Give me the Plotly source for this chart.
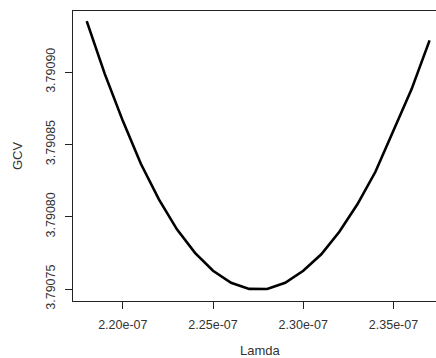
import plotly.graph_objects as go

# Data
lamda = [2.18e-07, 2.19e-07, 2.20e-07, 2.21e-07, 2.22e-07, 2.23e-07, 2.24e-07,
         2.25e-07, 2.26e-07, 2.27e-07, 2.28e-07, 2.29e-07, 2.30e-07, 2.31e-07,
         2.32e-07, 2.33e-07, 2.34e-07, 2.35e-07, 2.36e-07, 2.37e-07]
gcv = [3.7909353, 3.7908988, 3.7908663, 3.7908366, 3.7908120, 3.7907913,
       3.7907750, 3.7907626, 3.7907543, 3.7907501, 3.7907500, 3.7907543,
       3.7907626, 3.7907740, 3.7907896, 3.7908086, 3.7908311, 3.7908591,
       3.7908881, 3.7909220]

x_tick_vals = [2.20e-07, 2.25e-07, 2.30e-07, 2.35e-07]
x_tick_text = ["2.20e-07", "2.25e-07", "2.30e-07", "2.35e-07"]
y_tick_vals = [3.79075, 3.79080, 3.79085, 3.79090]
y_tick_text = ["3.79075", "3.79080", "3.79085", "3.79090"]

FONT = "Liberation Sans, Arial, Helvetica, sans-serif"
TXT = "#333333"

fig = go.Figure()
fig.add_trace(go.Scatter(x=lamda, y=gcv, mode="lines",
                         line=dict(color="black", width=2.6),
                         hoverinfo="skip", showlegend=False))

fig.update_layout(
    width=436, height=358,
    margin=dict(l=73, r=0, t=11, b=57),
    paper_bgcolor="white", plot_bgcolor="white",
    font=dict(family=FONT, size=13, color=TXT),
    xaxis=dict(range=[2.1724e-07, 2.37356e-07], showgrid=False, zeroline=False,
               showline=True, mirror=True, linecolor="#222222", linewidth=1,
               ticks="outside", ticklen=7, tickcolor="#222222",
               tickvals=x_tick_vals, ticktext=x_tick_text,
               tickfont=dict(size=12.5, color=TXT), ticklabelstandoff=5),
    yaxis=dict(range=[3.7907417, 3.7909423], showgrid=False, zeroline=False,
               showline=True, mirror=False, linecolor="#222222", linewidth=1,
               ticks="outside", ticklen=7, tickcolor="#222222",
               tickvals=y_tick_vals, ticktext=y_tick_text, tickangle=-90,
               tickfont=dict(size=12.5, color=TXT), ticklabelstandoff=5),
    annotations=[
        dict(text="Lamda", xref="paper", yref="paper", x=(260 - 73) / 363, y=0,
             yshift=-49, xanchor="center", yanchor="middle", showarrow=False,
             font=dict(size=13, color=TXT)),
        dict(text="GCV", xref="paper", yref="paper", x=0, y=0.5, xshift=-56,
             xanchor="center", yanchor="middle", textangle=-90, showarrow=False,
             font=dict(size=13, color=TXT)),
    ],
)

fig.write_html("out.html")
